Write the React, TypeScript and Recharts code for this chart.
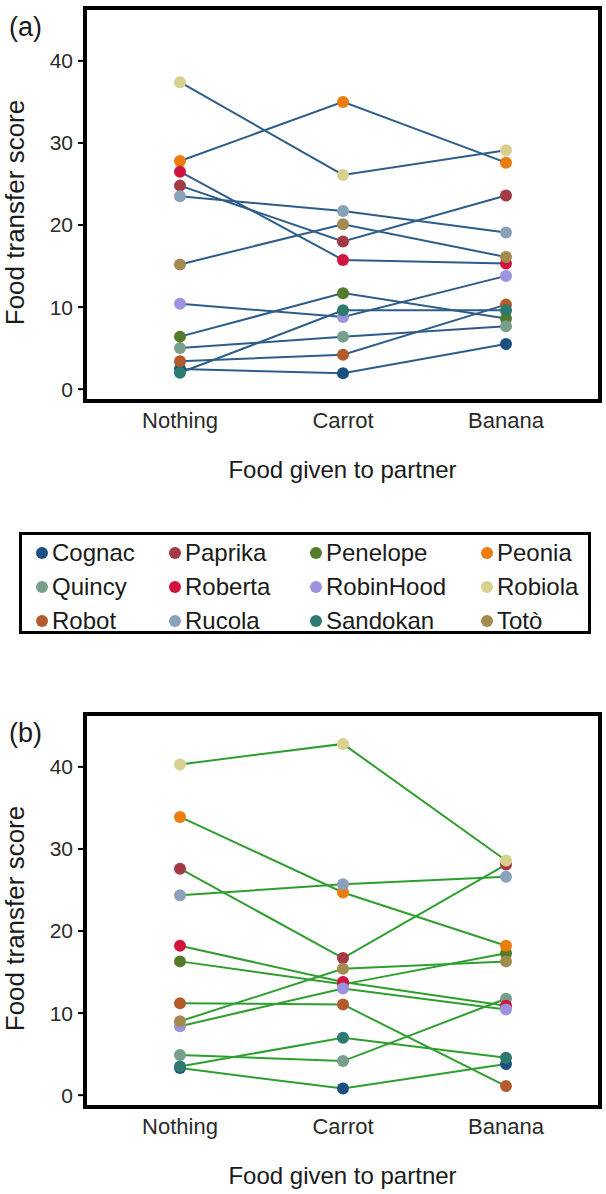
import React from 'react';
import { ComposedChart, Line, XAxis, YAxis } from 'recharts';

const FOODS = ['Nothing', 'Carrot', 'Banana'];
const NAMES = ['Cognac', 'Paprika', 'Penelope', 'Peonia', 'Quincy', 'Roberta', 'RobinHood', 'Robiola', 'Robot', 'Rucola', 'Sandokan', 'Totò'];
const COLORS = ['#1b4f80', '#a33a45', '#557a2a', '#ec7c0c', '#789e8c', '#d1143f', '#9d92e0', '#d8d08e', '#b45a2c', '#8aa1ba', '#2d7a70', '#a38b4f'];
const Y_TICKS = [0, 10, 20, 30, 40];

// Panel (a): values for Nothing, Carrot, Banana
const A_Cognac = [2.45, 1.95, 5.5];
const A_Paprika = [24.8, 18.0, 23.6];
const A_Penelope = [6.4, 11.7, 8.6];
const A_Peonia = [27.8, 35.0, 27.6];
const A_Quincy = [5.0, 6.4, 7.65];
const A_Roberta = [26.5, 15.75, 15.3];
const A_RobinHood = [10.4, 8.8, 13.8];
const A_Robiola = [37.4, 26.1, 29.1];
const A_Robot = [3.4, 4.2, 10.3];
const A_Rucola = [23.5, 21.7, 19.1];
const A_Sandokan = [2.0, 9.6, 9.6];
const A_Toto = [15.2, 20.1, 16.1];

// Panel (b)
const B_Cognac = [3.3, 0.8, 3.8];
const B_Paprika = [27.6, 16.7, 28.1];
const B_Penelope = [16.3, 13.5, 17.3];
const B_Peonia = [33.9, 24.7, 18.2];
const B_Quincy = [4.9, 4.15, 11.75];
const B_Roberta = [18.2, 13.8, 10.9];
const B_RobinHood = [8.4, 13.0, 10.45];
const B_Robiola = [40.3, 42.8, 28.6];
const B_Robot = [11.2, 11.05, 1.1];
const B_Rucola = [24.35, 25.7, 26.6];
const B_Sandokan = [3.5, 7.0, 4.55];
const B_Toto = [9.0, 15.4, 16.3];

const SERIES_A = [A_Cognac, A_Paprika, A_Penelope, A_Peonia, A_Quincy, A_Roberta, A_RobinHood, A_Robiola, A_Robot, A_Rucola, A_Sandokan, A_Toto];
const SERIES_B = [B_Cognac, B_Paprika, B_Penelope, B_Peonia, B_Quincy, B_Roberta, B_RobinHood, B_Robiola, B_Robot, B_Rucola, B_Sandokan, B_Toto];

const FONT = '"Liberation Sans", Arial, Helvetica, sans-serif';

function buildRows(series: number[][]) {
  return FOODS.map((food, i) => {
    const row: Record<string, any> = { food };
    NAMES.forEach((n, k) => {
      row[n] = series[k][i];
    });
    return row;
  });
}

const W = 606;
const H = 490;
const PLOT_LEFT = 87;
const PLOT_RIGHT = 598;
const PLOT_TOP = 10;
const PLOT_BOTTOM = 399;

const YLabel = (props: any) => {
  const vb = props.viewBox || { y: PLOT_TOP, height: PLOT_BOTTOM - PLOT_TOP };
  const cy = vb.y + vb.height / 2 + 8;
  const x = 15;
  return (
    <text x={x} y={cy} transform={`rotate(-90, ${x}, ${cy})`} textAnchor="middle" dominantBaseline="central" fontSize={26} fill="#1a1a1a" fontFamily={FONT}>
      Food transfer score
    </text>
  );
};

const XLabel = (props: any) => {
  const vb = props.viewBox || { x: PLOT_LEFT, width: PLOT_RIGHT - PLOT_LEFT, y: PLOT_BOTTOM };
  const cx = vb.x + vb.width / 2;
  return (
    <text x={cx} y={PLOT_BOTTOM + 79} textAnchor="middle" fontSize={24} fill="#1a1a1a" fontFamily={FONT}>
      Food given to partner
    </text>
  );
};

function Panel({ series, lineColor, letter, top }: { series: number[][]; lineColor: string; letter: string; top: number }) {
  const data = buildRows(series);
  return (
    <div style={{ position: 'absolute', left: 0, top, width: W, height: H }}>
      <ComposedChart width={W} height={H} data={data} margin={{ top: PLOT_TOP, right: W - PLOT_RIGHT, bottom: H - PLOT_BOTTOM - 80, left: 0 }}>
        <XAxis
          dataKey="food"
          type="category"
          height={80}
          padding={{ left: 93, right: 92 }}
          axisLine={false}
          tickLine={false}
          tickSize={0}
          tickMargin={13}
          tick={{ fontSize: 22, fill: '#2a2a2a', fontFamily: FONT }}
          label={{ content: XLabel }}
        />
        <YAxis
          type="number"
          width={PLOT_LEFT}
          domain={[-1.2, 46.2]}
          ticks={Y_TICKS}
          axisLine={false}
          tickSize={9}
          tickMargin={5}
          tickLine={{ stroke: '#000', strokeWidth: 2 }}
          tick={{ fontSize: 21, fill: '#2a2a2a', fontFamily: FONT }}
          label={{ content: YLabel }}
        />
        {NAMES.map((n) => (
          <Line key={'l' + n} dataKey={n} stroke={lineColor} strokeWidth={2} dot={false} activeDot={false} isAnimationActive={false} legendType="none" />
        ))}
        {NAMES.map((n, k) => (
          <Line
            key={'d' + n}
            dataKey={n}
            stroke="none"
            strokeWidth={0}
            dot={{ r: 6, fill: COLORS[k], stroke: 'none', strokeWidth: 0, fillOpacity: 1 }}
            activeDot={false}
            isAnimationActive={false}
            legendType="none"
          />
        ))}
      </ComposedChart>
      <div
        style={{
          position: 'absolute',
          left: PLOT_LEFT - 4,
          top: PLOT_TOP - 4,
          width: PLOT_RIGHT - PLOT_LEFT + 8,
          height: PLOT_BOTTOM - PLOT_TOP + 8,
          border: '4px solid #000',
          boxSizing: 'border-box',
          pointerEvents: 'none',
        }}
      />
      <div style={{ position: 'absolute', left: 9, top: 14, fontSize: 27, lineHeight: 1, fontFamily: FONT, color: '#1a1a1a' }}>{letter}</div>
    </div>
  );
}

const LEGEND_COL_X = [42, 175, 316, 487];
const LEGEND_ROW_Y = [553, 587, 621];

function LegendBox() {
  return (
    <div
      style={{
        position: 'absolute',
        left: 19,
        top: 532,
        width: 572,
        height: 102,
        border: '3px solid #000',
        boxSizing: 'border-box',
      }}
    >
      {NAMES.map((n, k) => {
        const col = k % 4;
        const row = Math.floor(k / 4);
        const cx = LEGEND_COL_X[col] - 19 - 3;
        const cy = LEGEND_ROW_Y[row] - 532 - 3;
        return (
          <div key={n} style={{ position: 'absolute', left: cx - 6, top: cy - 12, height: 24, display: 'flex', alignItems: 'center', whiteSpace: 'nowrap' }}>
            <span style={{ display: 'inline-block', width: 12, height: 12, borderRadius: 6, background: COLORS[k], marginRight: 4 }} />
            <span style={{ fontSize: 24, fontFamily: FONT, color: '#1a1a1a', lineHeight: '24px' }}>{n}</span>
          </div>
        );
      })}
    </div>
  );
}

export default function App() {
  return (
    <div style={{ position: 'absolute', left: 0, top: 0, width: 606, height: 1194, background: '#fff', overflow: 'hidden' }}>
      <Panel series={SERIES_A} lineColor="#2d5d88" letter="(a)" top={0} />
      <LegendBox />
      <Panel series={SERIES_B} lineColor="#2f9e2f" letter="(b)" top={706} />
    </div>
  );
}
